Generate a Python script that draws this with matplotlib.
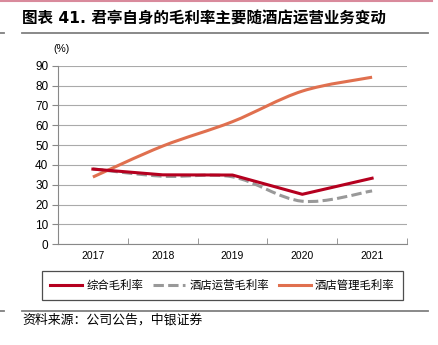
import matplotlib.pyplot as plt
import numpy as np
from matplotlib.path import Path
from matplotlib.patches import PathPatch
from matplotlib.lines import Line2D

plt.rcParams['font.family'] = ['Liberation Sans', 'Noto Sans CJK SC', 'DejaVu Sans']

years = ["2017", "2018", "2019", "2020", "2021"]
overall = [37.9, 35.0, 34.9, 25.2, 33.3]
hotel_ops = [38.0, 34.3, 34.0, 21.7, 26.9]
hotel_mgmt = [33.9, 49.5, 61.8, 77.2, 84.2]

series_names = ["综合毛利率", "酒店运营毛利率", "酒店管理毛利率"]
colors = ["#B5001F", "#999999", "#E0704F"]
styles = ["-", (0, (3.4, 1.4)), "-"]
smoothed = [False, True, True]

CJK = ['Noto Sans CJK SC', 'DejaVu Sans']


def smooth_path(xs, ys):
    # Catmull-Rom segments as cubic Bezier (Excel-like smoothed line)
    pts = np.column_stack([xs, ys]).astype(float)
    verts = [pts[0]]
    codes = [Path.MOVETO]
    n = len(pts)
    for i in range(n - 1):
        p0 = pts[i - 1] if i > 0 else pts[i]
        p1 = pts[i]
        p2 = pts[i + 1]
        p3 = pts[i + 2] if i + 2 < n else pts[i + 1]
        c1 = p1 + (p2 - p0) / 6.0
        c2 = p2 - (p3 - p1) / 6.0
        verts += [c1, c2, p2]
        codes += [Path.CURVE4] * 3
    return Path(verts, codes)


fig = plt.figure(figsize=(4.38, 3.45), dpi=100)
ax = fig.add_axes([58 / 438, 1 - 244.3 / 345, 349 / 438, 178.6 / 345])

x = np.arange(len(years))
for vals, c, ls, sm in zip([overall, hotel_ops, hotel_mgmt], colors, styles, smoothed):
    if sm:
        patch = PathPatch(smooth_path(x, vals), facecolor="none", edgecolor=c,
                          linewidth=2.2, linestyle=ls, capstyle="butt", zorder=3)
        ax.add_patch(patch)
    else:
        ax.plot(x, vals, color=c, lw=2.2, ls=ls, zorder=4)

ax.set_xlim(-0.5, len(years) - 0.5)
ax.set_ylim(0, 90)
ax.set_yticks(range(0, 91, 10))
ax.set_xticks(x)
ax.set_xticklabels(years)
ax.set_xticks(np.arange(-0.5, len(years), 1), minor=True)
ax.tick_params(axis="x", which="major", length=0, labelsize=7.5, pad=5)
ax.tick_params(axis="x", which="minor", length=4, color="#888888", direction="in")
ax.tick_params(axis="y", length=4, color="#888888", labelsize=8.5, pad=3)
ax.grid(axis="y", color="#aaaaaa", linewidth=0.8)
ax.set_axisbelow(True)
for s in ["top", "right"]:
    ax.spines[s].set_visible(False)
ax.spines["left"].set_color("#888888")
ax.spines["bottom"].set_color("#888888")
ax.text(-0.014, 1.093, "(%)", transform=ax.transAxes, fontsize=7.5,
        ha="left", va="center")

handles = [Line2D([0], [0], color=c, lw=2.2, ls=ls) for c, ls in zip(colors, styles)]
leg = fig.legend(handles, series_names, loc="center",
                 bbox_to_anchor=(222.5 / 438, 1 - 285.5 / 345), ncol=3, frameon=True,
                 fancybox=False, edgecolor="#222222", handlelength=2.8,
                 columnspacing=0.9, handletextpad=0.35, borderpad=0.75,
                 prop={'family': CJK, 'size': 8.2})
leg.get_frame().set_linewidth(0.9)

fig.text(22 / 438, 1 - 19 / 345, "图表 41. 君亭自身的毛利率主要随酒店运营业务变动",
         fontsize=11.2, fontweight="bold", family=['DejaVu Sans', 'Noto Sans CJK SC'],
         va="center")
fig.text(22 / 438, 1 - 320 / 345, "资料来源：公司公告，中银证券", fontsize=9.3,
         style="italic", family=CJK, va="center")

# decorative rules
fig.add_artist(Line2D([0, 432 / 438], [1 - 0.8 / 345] * 2, color="#D98A9C", lw=1.5))
fig.add_artist(Line2D([22 / 438, 428 / 438], [1 - 33 / 345] * 2, color="#808080", lw=1.3))
fig.add_artist(Line2D([0, 4 / 438], [1 - 33 / 345] * 2, color="#808080", lw=1.3))
fig.add_artist(Line2D([22 / 438, 428 / 438], [1 - 310.7 / 345] * 2, color="#808080", lw=1.3))
fig.add_artist(Line2D([0, 4 / 438], [1 - 310.7 / 345] * 2, color="#808080", lw=1.3))

fig.savefig("out.png", dpi=100)
